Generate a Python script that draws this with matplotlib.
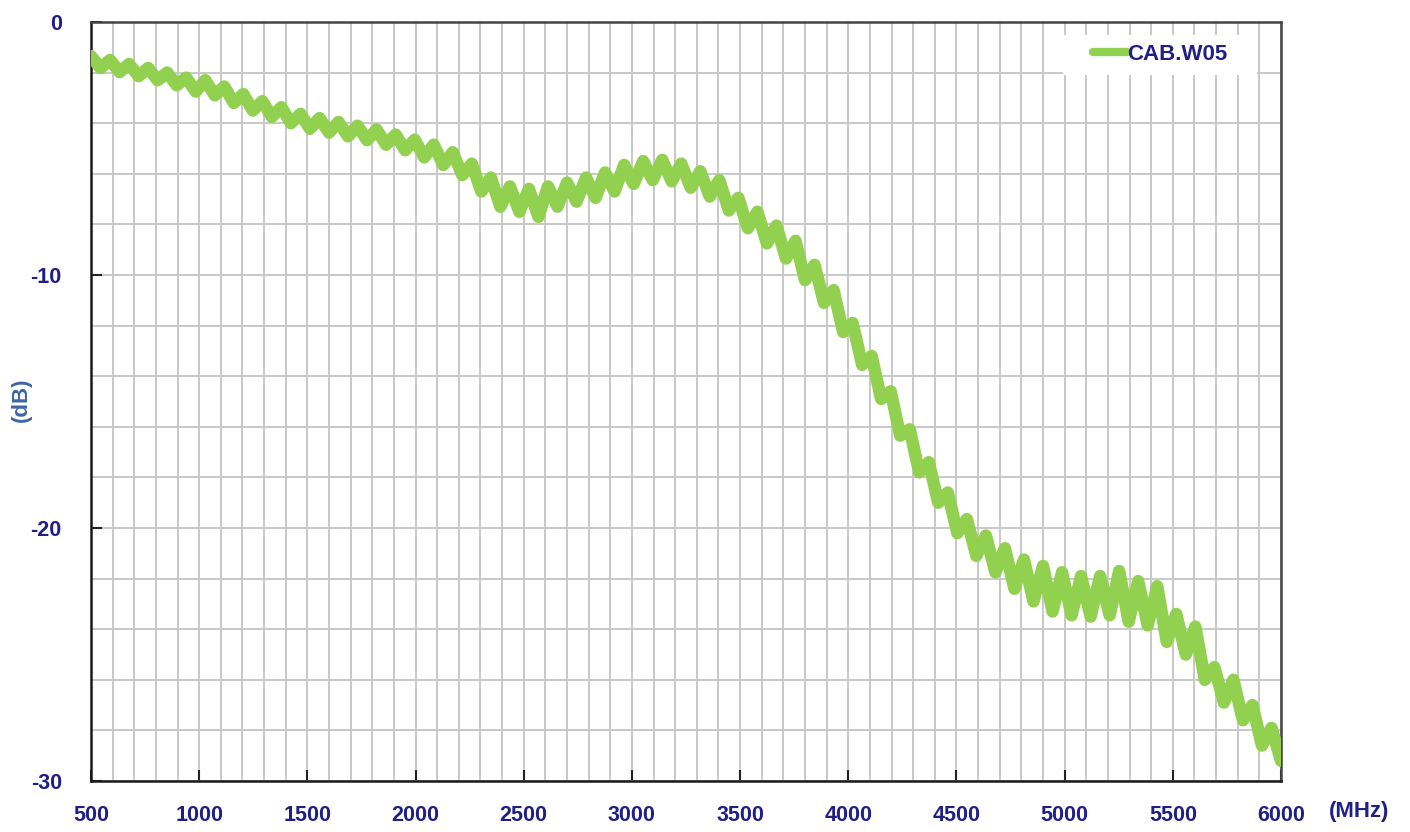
import numpy as np
import matplotlib
matplotlib.use("Agg")
import matplotlib.pyplot as plt
from matplotlib.ticker import MultipleLocator
from matplotlib.patches import Rectangle

plt.rcParams["axes.unicode_minus"] = False

# ---- data ----
freq_mhz = np.arange(500, 6001, 44)
loss_db = [
    -1.35, -1.82, -1.50, -1.98, -1.66, -2.14, -1.82, -2.30, -2.00, -2.50,
    -2.20, -2.75, -2.30, -2.90, -2.55, -3.20, -2.85, -3.50, -3.13, -3.75,
    -3.37, -4.00, -3.63, -4.22, -3.80, -4.37, -3.95, -4.52, -4.10, -4.67,
    -4.25, -4.85, -4.45, -5.07, -4.65, -5.35, -4.85, -5.65, -5.15, -6.05,
    -5.60, -6.70, -6.15, -7.30, -6.50, -7.50, -6.60, -7.70, -6.50, -7.30,
    -6.35, -7.10, -6.15, -6.95, -5.95, -6.70, -5.65, -6.40, -5.50, -6.25,
    -5.45, -6.30, -5.60, -6.55, -5.90, -6.90, -6.25, -7.45, -6.95, -8.15,
    -7.50, -8.75, -8.05, -9.35, -8.65, -10.20, -9.60, -11.10, -10.60, -12.25,
    -11.90, -13.55, -13.20, -14.90, -14.60, -16.35, -16.10, -17.80, -17.40, -19.00,
    -18.60, -20.20, -19.65, -21.10, -20.30, -21.75, -20.80, -22.40, -21.25, -22.90,
    -21.50, -23.30, -21.75, -23.45, -21.90, -23.50, -21.90, -23.45, -21.70, -23.70,
    -22.10, -23.85, -22.30, -24.50, -23.40, -25.00, -23.90, -26.00, -25.50, -26.90,
    -26.00, -27.60, -27.00, -28.60, -27.90, -29.20,
]
series_name = "CAB.W05"
x_ticks = [500, 1000, 1500, 2000, 2500, 3000, 3500, 4000, 4500, 5000, 5500, 6000]
y_ticks = [0, -10, -20, -30]

NAVY = "#1f1f86"
STEEL = "#3d66a3"
GREEN = "#92d050"
FONT = ["Liberation Sans", "DejaVu Sans"]
W, H = 1410, 832

fig = plt.figure(figsize=(W/100, H/100), dpi=100)
ax = fig.add_axes([91/W, 1 - 781/H, (1281-91)/W, (781-22)/H])

ax.plot(freq_mhz, loss_db, color=GREEN, lw=9, solid_joinstyle="round",
        solid_capstyle="round", label=series_name, zorder=3)

ax.set_xlim(500, 6000)
ax.set_ylim(-30, 0)
ax.set_xticks(x_ticks)
ax.set_yticks(y_ticks)
ax.xaxis.set_minor_locator(MultipleLocator(100))
ax.yaxis.set_minor_locator(MultipleLocator(2))
ax.grid(True, which="both", color="#c8c8c8", lw=1.4, zorder=0)
ax.set_axisbelow(True)

ax.tick_params(which="major", direction="in", length=8, width=1.5, color="#222222")
ax.tick_params(which="minor", length=0)
ax.tick_params(axis="x", pad=17)
ax.tick_params(axis="y", pad=21)
for lab in ax.get_xticklabels() + ax.get_yticklabels():
    lab.set_family(FONT)
    lab.set_fontweight("bold")
    lab.set_fontsize(15.5)
    lab.set_color(NAVY)

for side in ["left", "bottom"]:
    ax.spines[side].set_color("#1a1a1a")
    ax.spines[side].set_linewidth(1.8)
for side in ["top", "right"]:
    ax.spines[side].set_color("#444444")
    ax.spines[side].set_linewidth(1.8)

fig.text(21/W, 1 - 400/H, "(dB)", rotation=90, ha="center", va="center",
         color=STEEL, fontsize=16, fontweight="bold", family=FONT)
fig.text(1359/W, 1 - 812/H, "(MHz)", ha="center", va="center",
         color=NAVY, fontsize=16, fontweight="bold", family=FONT)

# white legend background
ax.add_patch(Rectangle((1063/W, 1 - 75/H), 194/W, 40/H, transform=fig.transFigure,
                       facecolor="white", edgecolor="none", zorder=1, clip_on=False))

leg = ax.legend(loc="center left", bbox_to_anchor=(1093/W, 1 - 54/H),
                bbox_transform=fig.transFigure, frameon=False,
                handlelength=1.55, handletextpad=0.0, borderpad=0.0,
                borderaxespad=0.0,
                prop={"family": FONT, "weight": "bold", "size": 16})
leg.set_zorder(5)
for t in leg.get_texts():
    t.set_color(NAVY)
for h in leg.get_lines():
    h.set_linewidth(6)
    h.set_solid_capstyle("round")

fig.savefig("out.png", dpi=100, facecolor="white")
